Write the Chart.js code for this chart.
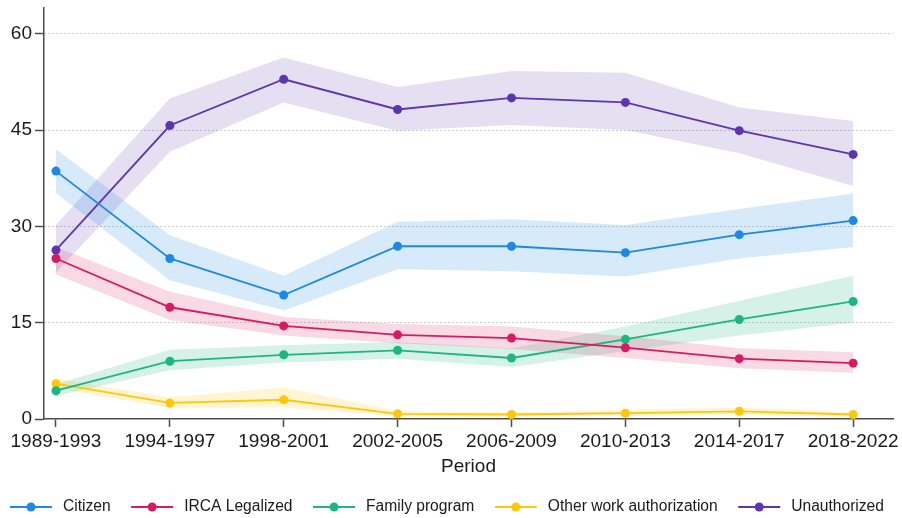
<!DOCTYPE html>
<html>
<head>
<meta charset="utf-8">
<script src="https://cdn.jsdelivr.net/npm/chart.js@4/dist/chart.umd.min.js"></script>
<style>
  html, body { margin: 0; padding: 0; background: #fff; }
  #chart { display: block; }
</style>
</head>
<body>
<canvas id="chart" width="902" height="518"></canvas>
<script>
// ===========================
// Data
// ===========================
const PERIODS = ['1989-1993', '1994-1997', '1998-2001', '2002-2005', '2006-2009', '2010-2013', '2014-2017', '2018-2022'];
const Y_TICKS = [0, 15, 30, 45, 60];

const CITIZEN    = [38.6, 25.0, 19.3, 26.9, 26.9, 25.9, 28.7, 30.9];
const CITIZEN_LO = [35.2, 21.6, 16.9, 23.3, 23.0, 22.2, 25.0, 26.8];
const CITIZEN_HI = [42.0, 28.6, 22.3, 30.7, 31.1, 30.2, 32.7, 35.1];

const IRCA    = [25.0, 17.4, 14.5, 13.1, 12.6, 11.1, 9.4, 8.7];
const IRCA_LO = [22.5, 15.4, 13.0, 11.8, 10.9, 9.5, 7.9, 7.2];
const IRCA_HI = [26.8, 19.8, 15.9, 14.8, 14.4, 12.9, 11.0, 10.4];

const FAMILY    = [4.4, 9.0, 10.0, 10.7, 9.5, 12.4, 15.5, 18.3];
const FAMILY_LO = [3.6, 7.6, 8.8, 9.4, 8.1, 10.6, 13.0, 15.0];
const FAMILY_HI = [5.4, 10.8, 11.5, 12.0, 11.0, 14.4, 18.4, 22.3];

const OTHER    = [5.5, 2.5, 3.0, 0.8, 0.7, 0.9, 1.2, 0.7];
const OTHER_LO = [4.8, 1.7, 1.8, 0.4, 0.3, 0.5, 0.7, 0.3];
const OTHER_HI = [6.3, 3.4, 4.9, 1.3, 1.1, 1.4, 1.8, 1.1];

const UNAUTH    = [26.3, 45.7, 52.9, 48.2, 50.0, 49.3, 44.9, 41.2];
const UNAUTH_LO = [22.8, 41.6, 49.3, 44.9, 45.8, 45.0, 41.4, 36.3];
const UNAUTH_HI = [30.2, 49.9, 56.3, 51.7, 54.2, 53.9, 48.5, 46.4];

const SERIES = [
  { label: 'Citizen',                 color: '#1E88E5', band: 'rgba(30,136,229,0.18)',  mid: CITIZEN, lo: CITIZEN_LO, hi: CITIZEN_HI },
  { label: 'IRCA Legalized',          color: '#D81B60', band: 'rgba(216,27,96,0.17)',   mid: IRCA,    lo: IRCA_LO,    hi: IRCA_HI },
  { label: 'Family program',          color: '#1DB680', band: 'rgba(29,182,128,0.18)',  mid: FAMILY,  lo: FAMILY_LO,  hi: FAMILY_HI },
  { label: 'Other work authorization',color: '#FFC70A', band: 'rgba(255,199,10,0.18)',  mid: OTHER,   lo: OTHER_LO,   hi: OTHER_HI },
  { label: 'Unauthorized',            color: '#5E35B1', band: 'rgba(94,53,177,0.16)',   mid: UNAUTH,  lo: UNAUTH_LO,  hi: UNAUTH_HI }
];

const FONT = 'Liberation Sans, Arial, Helvetica, sans-serif';
const AXIS_COLOR = '#4d4d4d';
const TEXT_COLOR = '#1a1a1a';

function toPoints(arr) { return arr.map((v, i) => ({ x: i, y: v })); }

// ===========================
// Datasets: upper edge, lower edge filled to upper, then the line
// ===========================
const bandSets = [];
const lineSets = [];
SERIES.forEach(s => {
  bandSets.push({
    label: s.label + ' hi', isBand: true, data: toPoints(s.hi),
    borderWidth: 0, pointRadius: 0, fill: false, borderColor: 'transparent'
  });
  bandSets.push({
    label: s.label + ' lo', isBand: true, data: toPoints(s.lo),
    borderWidth: 0, pointRadius: 0, fill: '-1', backgroundColor: s.band, borderColor: 'transparent'
  });
});
SERIES.forEach(s => {
  lineSets.push({
    label: s.label, data: toPoints(s.mid),
    borderColor: s.color, backgroundColor: s.color, borderWidth: 1.8,
    pointRadius: 4.5, pointBackgroundColor: s.color, pointBorderWidth: 0,
    fill: false, tension: 0
  });
});

// ===========================
// Legend: line with a dot, then the label
// ===========================
const lineLegend = {
  id: 'lineLegend',
  afterDraw(chart) {
    const c = chart.ctx;
    const y = chart.height - 11;
    let x = 10;
    c.save();
    c.font = '15.6px ' + FONT;
    c.textBaseline = 'middle';
    c.textAlign = 'left';
    chart.data.datasets.filter(d => !d.isBand).forEach(d => {
      c.strokeStyle = d.borderColor;
      c.lineWidth = 1.8;
      c.beginPath();
      c.moveTo(x, y);
      c.lineTo(x + 42, y);
      c.stroke();
      c.fillStyle = d.borderColor;
      c.beginPath();
      c.arc(x + 21, y, 4.5, 0, Math.PI * 2);
      c.fill();
      c.fillStyle = TEXT_COLOR;
      c.fillText(d.label, x + 53, y);
      x += 53 + c.measureText(d.label).width + 20.5;
    });
    c.restore();
  }
};

// ===========================
// Chart
// ===========================
new Chart(document.getElementById('chart').getContext('2d'), {
  type: 'line',
  data: { datasets: bandSets.concat(lineSets) },
  plugins: [lineLegend],
  options: {
    responsive: false,
    animation: false,
    devicePixelRatio: 1,
    layout: { padding: { top: 8, right: 9, bottom: 0, left: 0 } },
    plugins: {
      legend: { display: false },
      tooltip: { enabled: false },
      filler: { drawTime: 'beforeDatasetsDraw' }
    },
    scales: {
      x: {
        type: 'linear',
        min: -0.105,
        max: 7.35,
        afterBuildTicks: scale => { scale.ticks = PERIODS.map((p, i) => ({ value: i })); },
        afterFit: scale => { scale.height = 99; },
        ticks: {
          color: TEXT_COLOR,
          font: { family: FONT, size: 19 },
          padding: 3,
          maxRotation: 0,
          autoSkip: false,
          callback: v => PERIODS[v]
        },
        grid: { drawOnChartArea: false, tickLength: 8, tickColor: AXIS_COLOR, tickWidth: 1.5 },
        border: { color: AXIS_COLOR, width: 1.5 },
        title: {
          display: true, text: 'Period', color: TEXT_COLOR,
          font: { family: FONT, size: 19 }, padding: { top: 0, bottom: 40 }
        }
      },
      y: {
        min: 0,
        max: 64,
        afterBuildTicks: scale => { scale.ticks = Y_TICKS.map(v => ({ value: v })); },
        afterFit: scale => {
          scale.width = 44;
          scale.paddingTop = 0;
          scale.paddingBottom = 0;
        },
        ticks: {
          color: TEXT_COLOR,
          font: { family: FONT, size: 19 },
          padding: 3
        },
        grid: {
          color: ctx => (ctx.tick && ctx.tick.value === 0) ? 'rgba(0,0,0,0)' : '#9a9a9a',
          lineWidth: 1,
          tickLength: 9,
          tickColor: AXIS_COLOR,
          tickWidth: 1.5
        },
        border: { color: AXIS_COLOR, width: 1.5, dash: [1, 3] }
      }
    }
  }
});
</script>
</body>
</html>
